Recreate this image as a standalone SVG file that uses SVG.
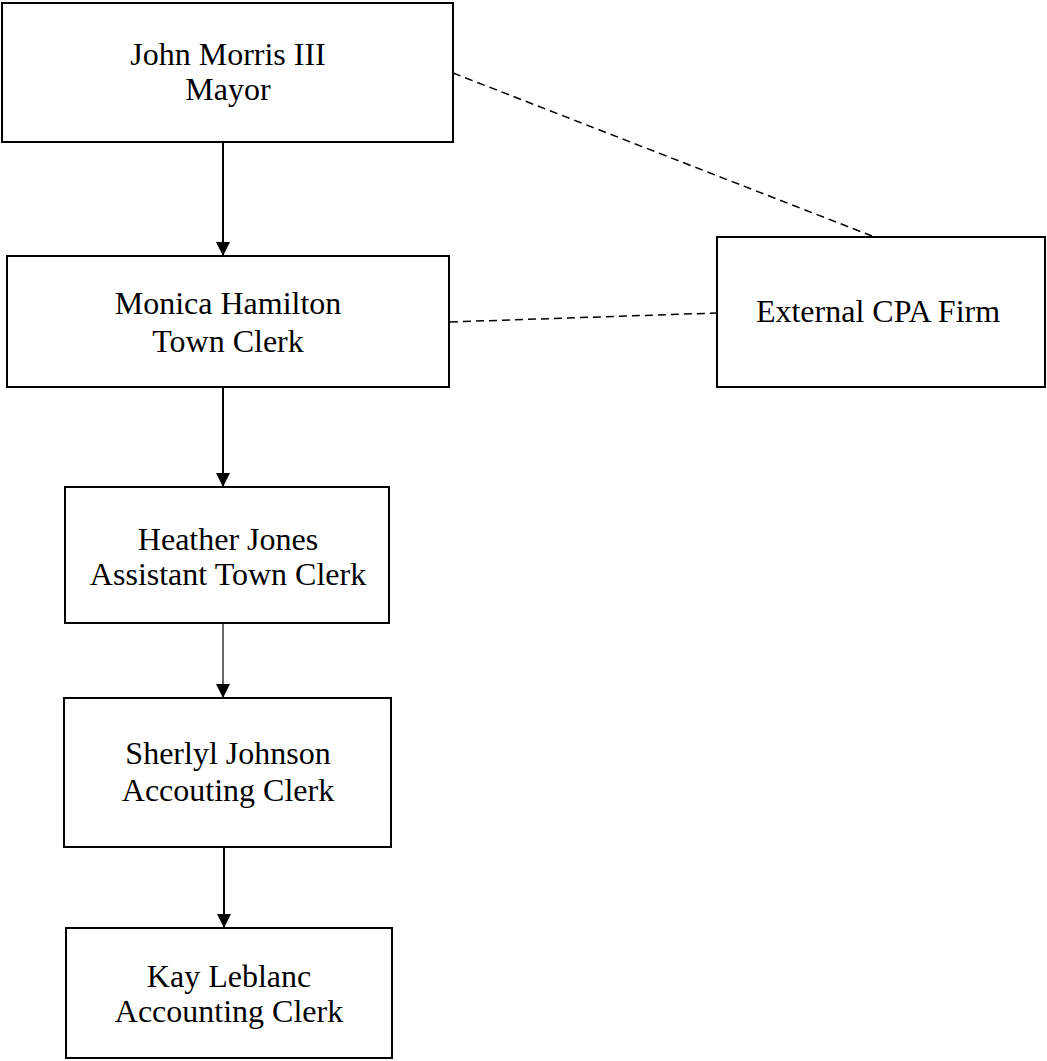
<svg xmlns="http://www.w3.org/2000/svg" width="1047" height="1061" viewBox="0 0 1047 1061">
<defs>
<style>
.box{fill:#fff;stroke:#000;stroke-width:2}
.t{font-family:"Liberation Serif","Times New Roman",serif;font-size:32px;fill:#000;text-anchor:middle}
.solid{stroke:#000;stroke-width:2;fill:none}
.thin{stroke:#000;stroke-width:1.2;fill:none}
.dash{stroke:#000;stroke-width:1.5;stroke-dasharray:8 5;fill:none}
</style>
<marker id="arr" markerWidth="14" markerHeight="15" refX="14" refY="7" orient="auto" markerUnits="userSpaceOnUse">
<path d="M0,0 L14,7 L0,14 Z" fill="#000"/>
</marker>
</defs>
<rect width="1047" height="1061" fill="#fff"/>
<g id="connectors">
<line class="solid" x1="223" y1="142" x2="223" y2="256" marker-end="url(#arr)"/>
<line class="solid" x1="223" y1="387" x2="223" y2="487" marker-end="url(#arr)"/>
<line class="thin" x1="223" y1="623" x2="223" y2="698" marker-end="url(#arr)"/>
<line class="solid" x1="224" y1="847" x2="224" y2="928" marker-end="url(#arr)"/>
<line class="dash" x1="453" y1="73" x2="872" y2="236"/>
<line class="dash" x1="450" y1="322" x2="717" y2="313"/>
</g>
<g id="mayor">
<rect class="box" x="2" y="3" width="451" height="139"/>
<text class="t" x="228" y="65">John Morris III</text>
<text class="t" x="228" y="100">Mayor</text>
</g>
<g id="town-clerk">
<rect class="box" x="7" y="256" width="442" height="131"/>
<text class="t" x="228" y="314">Monica Hamilton</text>
<text class="t" x="228" y="352">Town Clerk</text>
</g>
<g id="cpa">
<rect class="box" x="717" y="237" width="328" height="150"/>
<text class="t" x="878" y="322">External CPA Firm</text>
</g>
<g id="assistant">
<rect class="box" x="65" y="487" width="324" height="136"/>
<text class="t" x="228" y="550">Heather Jones</text>
<text class="t" x="228" y="585">Assistant Town Clerk</text>
</g>
<g id="sherlyl">
<rect class="box" x="64" y="698" width="327" height="149"/>
<text class="t" x="228" y="764">Sherlyl Johnson</text>
<text class="t" x="228" y="801">Accouting Clerk</text>
</g>
<g id="kay">
<rect class="box" x="66" y="928" width="326" height="130"/>
<text class="t" x="229" y="987">Kay Leblanc</text>
<text class="t" x="229" y="1022">Accounting Clerk</text>
</g>
</svg>
